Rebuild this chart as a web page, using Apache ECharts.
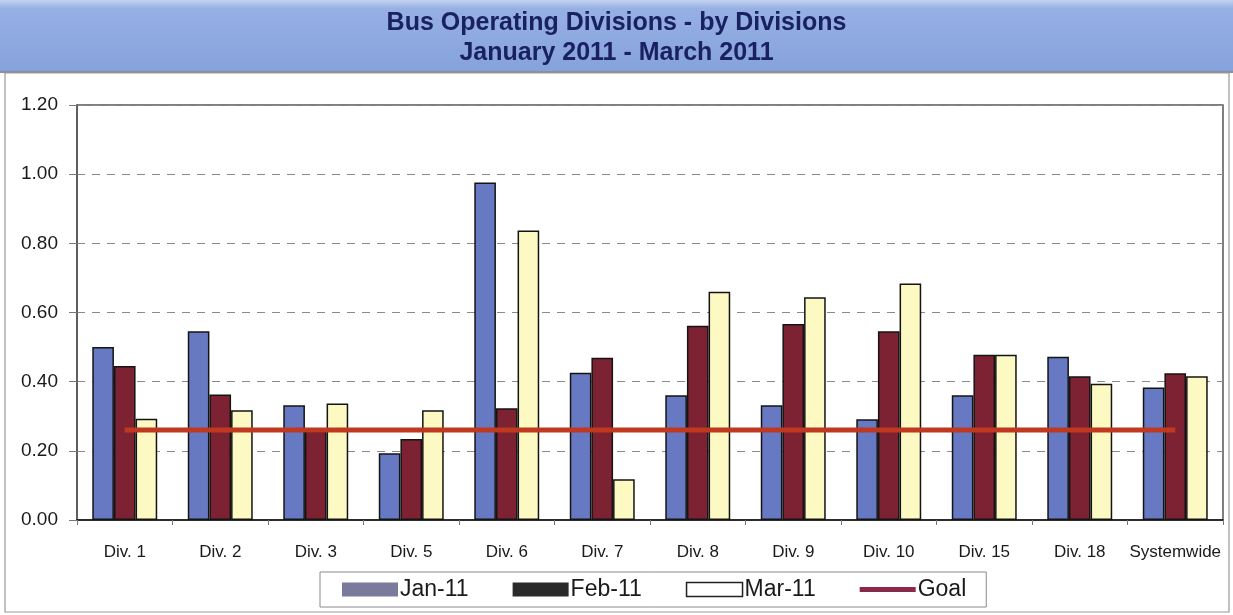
<!DOCTYPE html>
<html>
<head>
<meta charset="utf-8">
<script src="https://cdn.jsdelivr.net/npm/echarts@6/dist/echarts.min.js"></script>
<style>
html,body{margin:0;padding:0;background:#fff;}
#chart{width:1233px;height:615px;}
</style>
</head>
<body>
<div id="chart"></div>
<script>
const titleLines = ['Bus Operating Divisions - by Divisions', 'January 2011 - March 2011'];
const categories = ['Div. 1','Div. 2','Div. 3','Div. 5','Div. 6','Div. 7','Div. 8','Div. 9','Div. 10','Div. 15','Div. 18','Systemwide'];
const jan11 = [0.50, 0.546, 0.332, 0.193, 0.976, 0.426, 0.361, 0.332, 0.291, 0.361, 0.472, 0.383];
const feb11 = [0.445, 0.363, 0.258, 0.234, 0.323, 0.469, 0.562, 0.567, 0.546, 0.478, 0.416, 0.424];
const mar11 = [0.293, 0.317, 0.337, 0.317, 0.837, 0.118, 0.660, 0.644, 0.684, 0.478, 0.394, 0.416];
const goal = [0.26, 0.26, 0.26, 0.26, 0.26, 0.26, 0.26, 0.26, 0.26, 0.26, 0.26, 0.26];
const yTicks = { min: 0, max: 1.2, interval: 0.2 };

const chart = echarts.init(document.getElementById('chart'), null, {renderer: 'canvas'});
const sans = "'Liberation Sans', Arial, sans-serif";
const barBorder = { borderColor: '#141414', borderWidth: 1.5 };

chart.setOption({
  animation: false,
  backgroundColor: '#ffffff',
  graphic: [
    { type: 'rect', z: -10, shape: {x: 0, y: 0, width: 1233, height: 72},
      style: { fill: new echarts.graphic.LinearGradient(0, 0, 0, 1, [
        {offset: 0, color: '#c2d2f0'}, {offset: 0.12, color: '#96b0e4'}, {offset: 1, color: '#86a2dc'}]) } },
    { type: 'line', z: -9, shape: {x1: 0, y1: 72, x2: 1233, y2: 72}, style: {stroke: '#8a8f9a', lineWidth: 2} },
    { type: 'rect', z: -9, shape: {x: 5, y: 73, width: 1224, height: 539},
      style: { fill: 'none', stroke: '#9a9a9a', lineWidth: 1.2 } }
  ],
  title: {
    text: titleLines.join('\n'),
    left: 'center', top: 3,
    textStyle: { fontFamily: sans, fontWeight: 'bold', fontSize: 25, color: '#1a2163', lineHeight: 30 }
  },
  legend: {
    left: 320, top: 572,
    orient: 'horizontal',
    itemWidth: 56, itemHeight: 14, itemGap: 44,
    padding: [6, 20, 6, 22],
    borderColor: '#8a8a8a', borderWidth: 1,
    symbolKeepAspect: true,
    textStyle: { fontFamily: sans, fontSize: 23, color: '#1a1a1a', padding: [0, 0, 0, -3] },
    data: [
      { name: 'Jan-11', icon: 'rect', itemStyle: { color: '#7a7b9c', borderWidth: 0 } },
      { name: 'Feb-11', icon: 'rect', itemStyle: { color: '#2a2a2a', borderWidth: 0 } },
      { name: 'Mar-11', icon: 'rect', itemStyle: { color: '#ffffff', borderColor: '#222', borderWidth: 1.5 } },
      { name: 'Goal', icon: 'path://M0,0 L56,0 L56,5 L0,5 Z', itemStyle: { color: '#8b2a48', borderWidth: 0 } }
    ]
  },
  grid: { left: 77, right: 10, top: 105, bottom: 95, show: true, borderColor: '#555', borderWidth: 1.5, backgroundColor: 'transparent' },
  xAxis: {
    type: 'category', data: categories, boundaryGap: true,
    axisLine: { lineStyle: { color: '#111', width: 1.5 } },
    axisTick: { show: true, length: 5, lineStyle: { color: '#777' } },
    axisLabel: { fontFamily: sans, fontSize: 17, color: '#1a1a1a', margin: 24, interval: 0 }
  },
  yAxis: {
    type: 'value', min: yTicks.min, max: yTicks.max, interval: yTicks.interval,
    axisLine: { show: true, lineStyle: { color: '#555', width: 1.5 } },
    axisTick: { show: true, length: 8, inside: false, lineStyle: { color: '#777' } },
    axisLabel: { fontFamily: sans, fontSize: 19, color: '#1a1a1a', margin: 19, formatter: v => v.toFixed(2) },
    splitLine: { show: true, lineStyle: { color: '#8a8a8a', type: [8, 7], width: 1.2 } }
  },
  series: [
    { name: 'Jan-11', type: 'bar', data: jan11, barGap: '0%', barCategoryGap: '32%',
      itemStyle: Object.assign({ color: '#6779c2' }, barBorder) },
    { name: 'Feb-11', type: 'bar', data: feb11, barGap: '0%', barCategoryGap: '32%',
      itemStyle: Object.assign({ color: '#7c2232' }, barBorder) },
    { name: 'Mar-11', type: 'bar', data: mar11, barGap: '0%', barCategoryGap: '32%',
      itemStyle: Object.assign({ color: '#fcf9c2' }, barBorder) },
    { name: 'Goal', type: 'line', data: goal, symbol: 'none', z: 5,
      itemStyle: { color: '#8b2a48' },
      lineStyle: { color: '#c0381f', width: 5 } }
  ]
});
</script>
</body>
</html>
